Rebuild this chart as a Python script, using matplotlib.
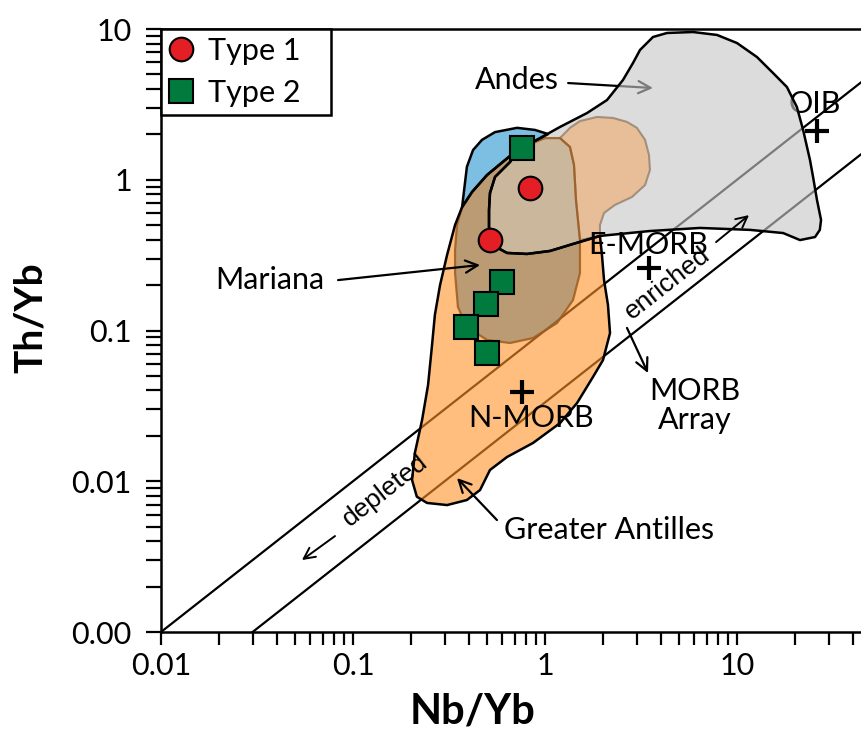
import numpy as np
import matplotlib
matplotlib.use("Agg")
import matplotlib.pyplot as plt
from matplotlib.patches import Polygon
from matplotlib.ticker import FixedLocator, FixedFormatter, LogLocator, NullFormatter

plt.rcParams["font.family"] = ["Lato", "DejaVu Sans"]

# ---- samples -------------------------------------------------------------
type1_nb = [0.84, 0.52]
type1_th = [0.88, 0.40]
type2_nb = [0.76, 0.60, 0.49, 0.39, 0.50]
type2_th = [1.62, 0.21, 0.15, 0.106, 0.071]

# ---- reference compositions ------------------------------------------------
ref_names = ["N-MORB", "E-MORB", "OIB"]
ref_nb = [0.76, 3.5, 26.0]
ref_th = [0.039, 0.26, 2.1]

# MORB array bounds (Th/Nb)
morb_upper_ratio = 0.1
morb_lower_ratio = 1.0 / 30.0

# ---- arc fields (Nb/Yb, Th/Yb outlines) --------------------------------------
andes_nb = [0.750, 0.866, 1.197, 1.655, 2.104, 2.548, 2.873, 3.125, 3.652, 4.32,
            5.90, 7.87, 10.0, 12.7, 15.4, 18.2, 20.5, 22.1, 24.0, 24.9,
            26.1, 27.4, 27.0, 25.5, 21.3, 17.4, 11.7, 6.41, 3.52, 1.933,
            1.399, 1.062, 0.806, 0.634, 0.569, 0.517, 0.511, 0.511, 0.517, 0.549,
            0.657]
andes_th = [1.65, 1.78, 2.24, 2.77, 3.38, 4.59, 5.95, 7.26, 8.85, 9.41,
            9.55, 9.13, 8.07, 6.52, 5.11, 4.12, 3.04, 2.14, 1.35, 1.043,
            0.734, 0.541, 0.465, 0.417, 0.398, 0.443, 0.465, 0.479, 0.457, 0.424,
            0.375, 0.337, 0.322, 0.327, 0.3525, 0.411, 0.486, 0.630, 0.817, 1.043,
            1.31]

antilles_nb = [0.750, 0.619, 0.499, 0.417, 0.370, 0.340, 0.309, 0.284, 0.267, 0.258,
               0.246, 0.229, 0.210, 0.203, 0.215, 0.243, 0.309, 0.392, 0.459, 0.517,
               0.634, 0.866, 1.197, 1.468, 1.778, 2.005, 2.181, 2.128, 2.03, 1.98,
               1.933, 1.399, 1.062, 0.806, 0.634, 0.569, 0.517, 0.511, 0.511, 0.517,
               0.549, 0.657]
antilles_th = [1.65, 1.35, 1.075, 0.830, 0.659, 0.501, 0.317, 0.200, 0.127, 0.080,
               0.0435, 0.0255, 0.0154, 0.0102, 0.0079, 0.00718, 0.00695, 0.00751, 0.00875, 0.01188,
               0.01448, 0.01794, 0.0243, 0.0330, 0.0492, 0.0637, 0.0962, 0.1476, 0.216, 0.317,
               0.424, 0.375, 0.337, 0.322, 0.327, 0.3525, 0.411, 0.486, 0.630, 0.817,
               1.043, 1.31]

blue_nb = [0.370, 0.392, 0.422, 0.470, 0.549, 0.715, 0.887, 1.037, 0.866, 0.750,
           0.619, 0.499, 0.417]
blue_th = [0.659, 1.22, 1.575, 1.84, 2.07, 2.21, 2.14, 2.01, 1.78, 1.65,
           1.35, 1.075, 0.830]

mariana_nb = [0.750, 0.619, 0.499, 0.417, 0.370, 0.348, 0.340, 0.340, 0.352, 0.392,
              0.499, 0.657, 0.866, 1.155, 1.399, 1.521, 1.521, 1.45, 1.416, 1.349,
              1.197, 1.0, 0.866]
mariana_th = [1.65, 1.35, 1.075, 0.830, 0.659, 0.501, 0.342, 0.2405, 0.143, 0.1055,
              0.0865, 0.0826, 0.0891, 0.112, 0.159, 0.2405, 0.398, 0.734, 1.253, 1.65,
              1.89, 1.89, 1.75]

lobe_nb = [1.197, 1.349, 1.521, 1.866, 2.26, 2.673, 3.01, 3.32, 3.48, 3.52,
           3.32, 2.84, 2.31, 2.03, 1.933, 1.933, 1.521, 1.45, 1.416, 1.349]
lobe_th = [1.89, 2.21, 2.45, 2.61, 2.57, 2.42, 2.21, 1.84, 1.46, 1.16,
           0.923, 0.769, 0.68, 0.602, 0.501, 0.424, 0.398, 0.734, 1.253, 1.65]

x_ticks = [0.01, 0.1, 1, 10]
x_ticklabels = ["0.01", "0.1", "1", "10"]
y_ticks = [0.001, 0.01, 0.1, 1, 10]
y_ticklabels = ["0.00", "0.01", "0.1", "1", "10"]

# ---- figure --------------------------------------------------------------
W, H = 862, 736
fig = plt.figure(figsize=(W / 100, H / 100), dpi=100)
ax = fig.add_axes([161 / W, 1 - 632 / H, 768 / W, 603 / H])
ax.set_xscale("log")
ax.set_yscale("log")
ax.set_xlim(0.01, 100)
ax.set_ylim(0.001, 10)


def region(nb, th, **kw):
    return Polygon(np.column_stack([nb, th]), closed=True, **kw)


# MORB array
xs = np.array([1e-4, 1e4])
for r in (morb_upper_ratio, morb_lower_ratio):
    ax.plot(xs, r * xs, color="black", lw=1.6, zorder=1)

# fills
antilles = region(antilles_nb, antilles_th, facecolor=(1.0, 0.576, 0.157), alpha=0.6,
                  edgecolor="none", zorder=2)
ax.add_patch(antilles)
andes = region(andes_nb, andes_th, facecolor=(0.78, 0.78, 0.79), alpha=0.62,
               edgecolor="none", zorder=2.2)
ax.add_patch(andes)

lobe = region(lobe_nb, lobe_th, facecolor=(0.95, 0.65, 0.38), alpha=0.55,
              edgecolor="none", zorder=3)
ax.add_patch(lobe)
lobe.set_clip_path(andes)

mar_a = region(mariana_nb, mariana_th, facecolor=(0.47, 0.48, 0.42), alpha=0.5,
               edgecolor="none", zorder=3)
ax.add_patch(mar_a)
mar_a.set_clip_path(antilles)
mar_b = region(mariana_nb, mariana_th, facecolor=(0.73, 0.58, 0.36), alpha=0.5,
               edgecolor="none", zorder=3)
ax.add_patch(mar_b)
mar_b.set_clip_path(andes)

blue = region(blue_nb, blue_th, facecolor="#7dbfe3", edgecolor="none", zorder=3)
ax.add_patch(blue)

# outlines
ax.add_patch(region(lobe_nb, lobe_th, fill=False, edgecolor=(0.58, 0.50, 0.42),
                    lw=1.5, alpha=0.8, zorder=4))
ax.add_patch(region(mariana_nb, mariana_th, fill=False, edgecolor=(0.62, 0.36, 0.12),
                    lw=1.6, alpha=0.85, zorder=4))
for nb, th in ((antilles_nb, antilles_th), (andes_nb, andes_th), (blue_nb, blue_th)):
    ax.add_patch(region(nb, th, fill=False, edgecolor="black", lw=1.8,
                        joinstyle="round", zorder=4.5))

# reference compositions
ax.plot(ref_nb, ref_th, linestyle="none", marker="+", markersize=17,
        markeredgewidth=3, color="black", zorder=6)

# labels
fs = 22
arrow_kw = dict(arrowstyle="->", color="black", lw=1.6, mutation_scale=22,
                shrinkA=0, shrinkB=0)
ax.text(0.715, 4.59, "Andes", fontsize=fs, ha="center", va="center", zorder=6)
ax.annotate("", xy=(3.65, 4.06), xytext=(1.32, 4.38), arrowprops=arrow_kw, zorder=1.5)
ax.text(0.037, 0.216, "Mariana", fontsize=fs, ha="center", va="center", zorder=6)
ax.annotate("", xy=(0.459, 0.272), xytext=(0.0836, 0.216), arrowprops=arrow_kw, zorder=6)
ax.text(2.154, 0.00475, "Greater Antilles", fontsize=fs, ha="center", va="center", zorder=6)
ax.annotate("", xy=(0.348, 0.0105), xytext=(0.562, 0.00553), arrowprops=arrow_kw, zorder=6)
ax.text(0.845, 0.0263, "N-MORB", fontsize=fs, ha="center", va="center", zorder=6)
ax.text(3.44, 0.369, "E-MORB", fontsize=fs, ha="center", va="center", zorder=6)
ax.text(25.5, 3.18, "OIB", fontsize=fs, ha="center", va="center", zorder=1.5)
ax.text(6.04, 0.032, "MORB\nArray", fontsize=fs, ha="center", va="center",
        linespacing=1.05, zorder=6)
ax.annotate("", xy=(3.44, 0.0522), xytext=(2.673, 0.104), arrowprops=arrow_kw, zorder=6)

# text aligned with the MORB array
p0 = ax.transData.transform((0.01, 0.001))
p1 = ax.transData.transform((100, 10))
ang = np.degrees(np.arctan2(p1[1] - p0[1], p1[0] - p0[0]))
small_arrow = dict(arrow_kw, lw=1.4, mutation_scale=20)
ax.text(4.32, 0.2065, "enriched", fontsize=19, family=["Liberation Sans", "DejaVu Sans"],
        rotation=ang, rotation_mode="anchor", ha="center", va="center", zorder=6)
ax.annotate("", xy=(11.55, 0.583), xytext=(7.78, 0.386), arrowprops=small_arrow, zorder=6)
ax.text(0.1468, 0.00875, "depleted", fontsize=19, family=["Liberation Sans", "DejaVu Sans"],
        rotation=ang, rotation_mode="anchor", ha="center", va="center", zorder=6)
ax.annotate("", xy=(0.0542, 0.0030), xytext=(0.0806, 0.00433), arrowprops=small_arrow, zorder=6)

# samples
ax.plot(type1_nb, type1_th, linestyle="none", marker="o", markersize=17,
        markerfacecolor="#e31e24", markeredgecolor="black", markeredgewidth=1.5,
        zorder=10, label="Type 1")
ax.plot(type2_nb, type2_th, linestyle="none", marker="s", markersize=17,
        markerfacecolor="#007a3d", markeredgecolor="black", markeredgewidth=1.5,
        zorder=10, label="Type 2")

leg = ax.legend(loc="upper left", bbox_to_anchor=(0, 0.8, 170 / 768, 0.2),
                mode="expand", borderaxespad=0,
                fancybox=False, framealpha=1, edgecolor="black", fontsize=fs,
                handlelength=0.8, handletextpad=0.5, borderpad=0.25,
                labelspacing=0.47)
leg.get_frame().set_linewidth(1.8)
leg.set_zorder(20)

# axes styling
ax.xaxis.set_major_locator(FixedLocator(x_ticks))
ax.xaxis.set_major_formatter(FixedFormatter(x_ticklabels))
ax.yaxis.set_major_locator(FixedLocator(y_ticks))
ax.yaxis.set_major_formatter(FixedFormatter(y_ticklabels))
for axis in (ax.xaxis, ax.yaxis):
    axis.set_minor_locator(LogLocator(base=10, subs=np.arange(2, 10), numticks=20))
    axis.set_minor_formatter(NullFormatter())
ax.tick_params(which="both", direction="out", width=1.6, labelsize=fs,
               top=False, right=False)
ax.tick_params(axis="y", which="both", length=11, pad=10)
ax.tick_params(axis="x", which="both", length=9.5, pad=5)
for s in ax.spines.values():
    s.set_linewidth(1.8)

fig.text(473 / W, 1 - 712 / H, "Nb/Yb", fontsize=30, fontweight="bold",
         ha="center", va="center")
fig.text(30 / W, 1 - 318 / H, "Th/Yb", fontsize=28, fontweight="bold",
         ha="center", va="center", rotation=90)

fig.savefig("out.png", dpi=100)
